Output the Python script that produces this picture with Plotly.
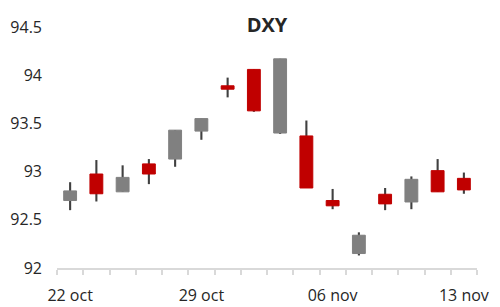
import plotly.graph_objects as go

dates = ["22 oct", "23 oct", "26 oct", "27 oct", "28 oct", "29 oct", "30 oct",
         "02 nov", "03 nov", "04 nov", "06 nov", "09 nov", "10 nov", "11 nov",
         "12 nov", "13 nov"]
open_ = [92.70, 92.975, 92.79, 93.08, 93.13, 93.42, 93.89, 94.06,
         93.40, 93.37, 92.70, 92.15, 92.765, 92.685, 93.01, 92.93]
high = [92.89, 93.12, 93.065, 93.13, 93.43, 93.55, 93.975, 94.06,
        94.17, 93.53, 92.82, 92.37, 92.83, 92.95, 93.13, 92.99]
low = [92.60, 92.69, 92.79, 92.87, 93.05, 93.33, 93.77, 93.62,
       93.39, 92.83, 92.61, 92.13, 92.60, 92.61, 92.79, 92.77]
close = [92.80, 92.77, 92.94, 92.975, 93.43, 93.55, 93.855, 93.63,
         94.17, 92.83, 92.645, 92.34, 92.665, 92.92, 92.79, 92.81]

label_idx = [0, 5, 10, 15]
y_ticks = [92, 92.5, 93, 93.5, 94, 94.5]

x = list(range(len(dates)))
body_top = [max(o, c) for o, c in zip(open_, close)]
body_bot = [min(o, c) for o, c in zip(open_, close)]
wick_len = [h - l for h, l in zip(high, low)]

UP = "#808080"
DOWN = "#C00000"
WICK = "#404040"
FONT = "Open Sans"

fig = go.Figure()
# wicks (bar layer is drawn beneath the candle bodies)
fig.add_trace(go.Bar(
    x=x, y=wick_len, base=low, width=0.08,
    marker=dict(color=WICK, line=dict(width=0)),
    showlegend=False, hoverinfo="skip"))
# bodies
fig.add_trace(go.Candlestick(
    x=x, open=open_, high=body_top, low=body_bot, close=close,
    increasing=dict(line=dict(color=UP, width=1), fillcolor=UP),
    decreasing=dict(line=dict(color=DOWN, width=1), fillcolor=DOWN),
    showlegend=False))

fig.update_layout(
    width=500, height=307,
    margin=dict(l=57, r=23, t=27, b=39),
    paper_bgcolor="white", plot_bgcolor="white",
    font=dict(family=FONT, size=16, color="#262626"),
    title=dict(text="<b>DXY</b>", x=0.5, xanchor="center", y=0.918, yanchor="middle",
               xref="paper", font=dict(family=FONT, size=20, color="#262626")),
    showlegend=False,
    xaxis=dict(
        range=[-0.5, len(dates) - 0.5], automargin=False,
        tickmode="array", tickvals=label_idx, ticktext=[dates[i] for i in label_idx],
        ticks="", showgrid=False, zeroline=False,
        showline=True, linecolor="#d9d9d9", linewidth=2,
        ticklabelstandoff=12,
        minor=dict(tick0=-0.5, dtick=1, ticks="outside", ticklen=5,
                   tickcolor="#d9d9d9", tickwidth=2, showgrid=False),
        rangeslider=dict(visible=False),
    ),
    yaxis=dict(
        range=[92, 94.5], tickmode="array", tickvals=y_ticks, automargin=False,
        ticktext=[f"{v:g}" for v in y_ticks],
        showgrid=False, zeroline=False, showline=False, ticks="",
        ticklabelstandoff=14,
    ),
)

fig.write_html("out.html")
